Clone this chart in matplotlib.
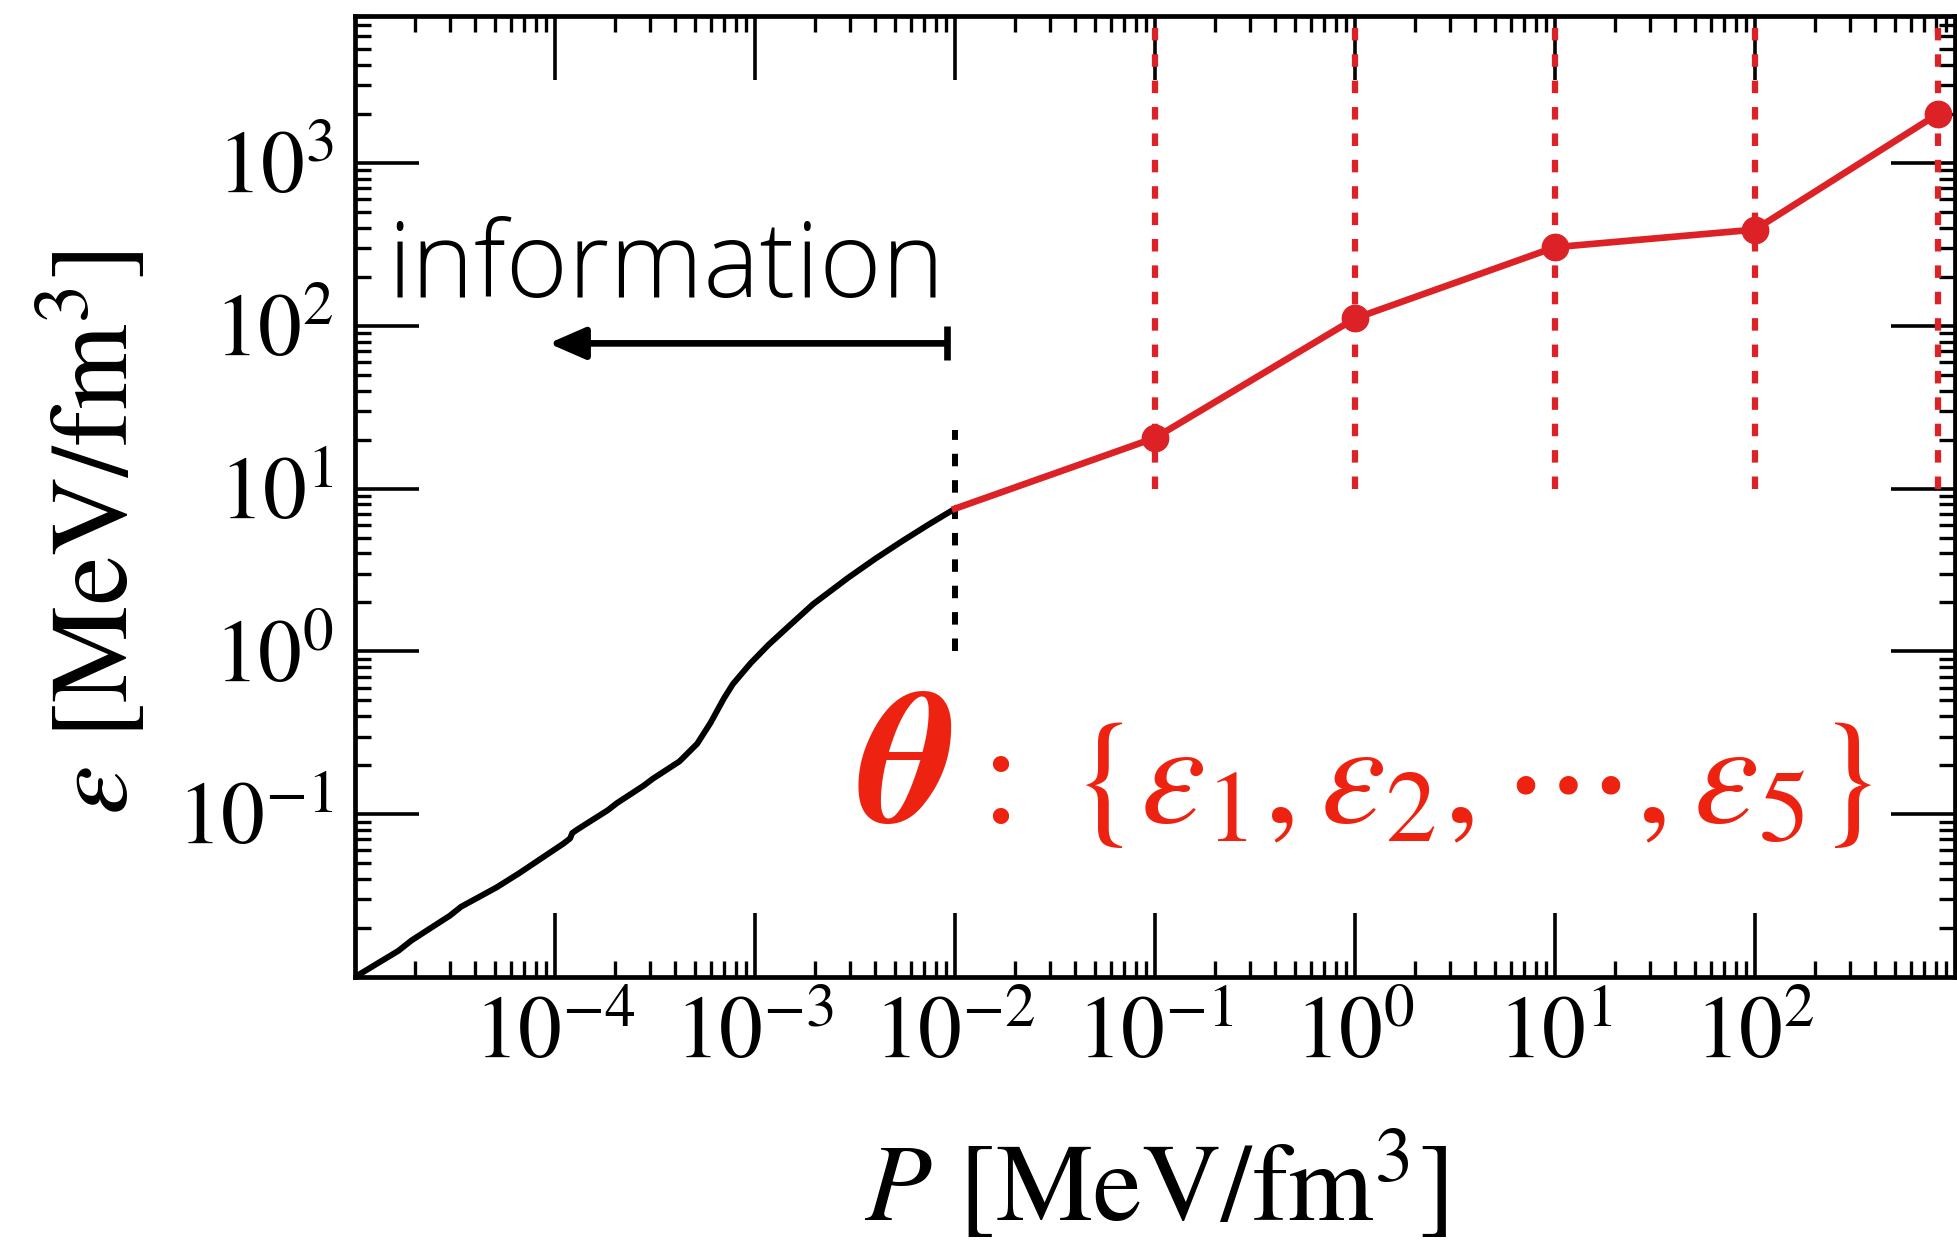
import numpy as np
import matplotlib
matplotlib.use("Agg")
import matplotlib.pyplot as plt
from matplotlib.ticker import LogLocator, NullFormatter

plt.rcParams["font.family"] = "STIXGeneral"
plt.rcParams["mathtext.fontset"] = "stix"
plt.rcParams["lines.scale_dashes"] = False

# low-density EOS (known part)
P_low = [1.0e-5, 1.65e-5, 1.92e-5, 2.98e-5, 3.39e-5, 5.1e-5, 6.6e-5, 1.10e-4,
         1.19e-4, 1.22e-4, 1.29e-4, 1.84e-4, 2.04e-4, 2.78e-4, 3.08e-4, 4.19e-4,
         5.14e-4, 6.0e-4, 7.0e-4, 7.76e-4, 9.53e-4, 1.17e-3, 1.44e-3, 1.95e-3,
         2.94e-3, 4.01e-3, 5.46e-3, 7.43e-3, 1.0e-2]
eps_low = [1.0e-2, 1.45e-2, 1.68e-2, 2.38e-2, 2.70e-2, 3.55e-2, 4.33e-2, 6.59e-2,
           7.10e-2, 7.66e-2, 8.04e-2, 0.106, 0.117, 0.150, 0.165, 0.211,
           0.271, 0.365, 0.516, 0.631, 0.849, 1.10, 1.39, 1.95,
           2.85, 3.72, 4.77, 6.05, 7.53]

# parametrised part: matching point + 5 nodes
P_nodes = [1.0e-2, 0.1, 1.0, 10.0, 100.0, 820.0]
eps_nodes = [7.53, 20.5, 111.0, 304.0, 390.0, 2000.0]

match_band = [1.0, 23.0]      # black dashed line at P = 1e-2
node_band = [10.0, 8.0e3]     # red dashed lines at the nodes
arrow_P = [9.1e-3, 9.3e-5]    # "information" arrow, from -> to
arrow_eps = 78.0

xticks = [1e-4, 1e-3, 1e-2, 1e-1, 1e0, 1e1, 1e2]
xticklabels = [r"$10^{-4}$", r"$10^{-3}$", r"$10^{-2}$", r"$10^{-1}$",
               r"$10^{0}$", r"$10^{1}$", r"$10^{2}$"]
yticks = [1e-1, 1e0, 1e1, 1e2, 1e3]
yticklabels = [r"$10^{-1}$", r"$10^{0}$", r"$10^{1}$", r"$10^{2}$", r"$10^{3}$"]

red = "#dc2226"
text_red = "#ee2211"

fig = plt.figure(figsize=(19.58, 12.52), dpi=100)
ax = fig.add_axes([355 / 1958, 1 - 977 / 1252, 1600 / 1958, 961 / 1252])
ax.set_xscale("log")
ax.set_yscale("log")
ax.set_xlim(1e-5, 1e3)
ax.set_ylim(1e-2, 8e3)

# dashed guides
for p in P_nodes[1:]:
    ax.plot([p, p], node_band, color=red, lw=4.5, dashes=(9, 10), zorder=2)
ax.plot([P_nodes[0], P_nodes[0]], match_band, color="k", lw=4.3,
        dashes=(9, 10), zorder=2)

# curves
ax.plot(P_low, eps_low, color="k", lw=4.3, zorder=3)
ax.plot(P_nodes, eps_nodes, color=red, lw=4.8, zorder=4)
ax.plot(P_nodes[1:], eps_nodes[1:], "o", ms=19, color=red, zorder=5,
        clip_on=False)

# information arrow
ax.annotate("", xy=(arrow_P[1], arrow_eps), xytext=(arrow_P[0], arrow_eps),
            arrowprops=dict(arrowstyle="-|>,head_length=0.55,head_width=0.24",
                            mutation_scale=40, lw=4.8, color="k",
                            shrinkA=0, shrinkB=0))
ax.plot([arrow_P[0]], [arrow_eps], marker="|", ms=25, mew=4.8, color="k")
ax.text(0.020, 0.7076, "information", transform=ax.transAxes,
        family="Open Sans", fontweight="light", fontsize=76.5,
        va="baseline", ha="left")

# parameter set label
ax.text(0.3144, 0.1613, r"$\mathbfit{\theta}$", transform=ax.transAxes,
        color=text_red, fontsize=136, va="baseline", ha="left")
ax.text(0.3775, 0.1613,
        r"$:\;\{\varepsilon_1,\varepsilon_2,\cdots,\varepsilon_5\}$",
        transform=ax.transAxes, color=text_red, fontsize=105,
        va="baseline", ha="left")

# axes styling
ax.set_xticks(xticks, labels=xticklabels)
ax.set_yticks(yticks, labels=yticklabels)
ax.xaxis.set_minor_locator(LogLocator(base=10, subs=np.arange(2, 10) * 1.0, numticks=50))
ax.yaxis.set_minor_locator(LogLocator(base=10, subs=np.arange(2, 10) * 1.0, numticks=50))
ax.xaxis.set_minor_formatter(NullFormatter())
ax.yaxis.set_minor_formatter(NullFormatter())
ax.tick_params(which="major", direction="in", top=True, right=True,
               length=46, width=2.6, labelsize=63, pad=15)
ax.tick_params(which="minor", direction="in", top=True, right=True,
               length=11.5, width=2.4)
for s in ax.spines.values():
    s.set_linewidth(3.4)

ax.set_xlabel(r"$P$ [MeV/fm$^3$]", fontsize=79)
ax.xaxis.set_label_coords(0.5, -0.16)
ax.set_ylabel(r"$\varepsilon$ [MeV/fm$^3$]", fontsize=79)
ax.yaxis.set_label_coords(-0.127, 0.462)

fig.savefig("out.png", dpi=100)
